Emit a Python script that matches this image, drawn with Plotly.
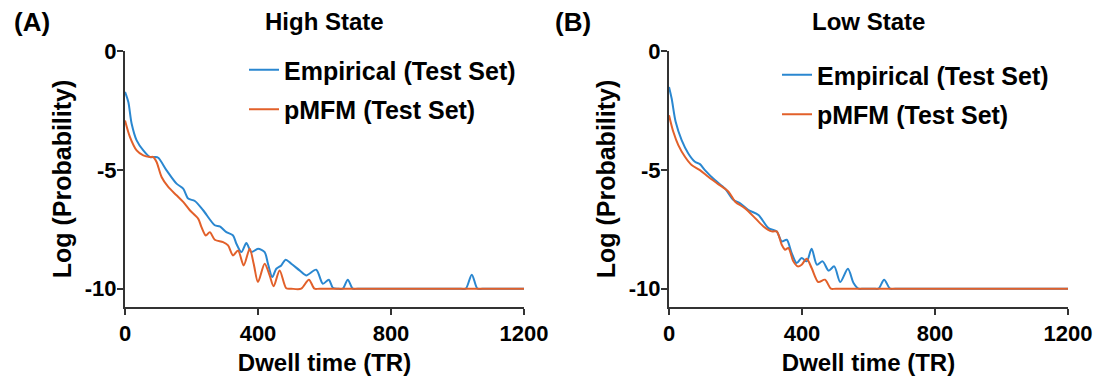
import plotly.graph_objects as go

# ---------------- data ----------------
high_emp_x = [0, 10, 20, 35, 55, 75, 90, 100, 125, 155, 175, 190, 210, 235, 270, 285, 305, 325, 335, 350,
              365, 380, 400, 420, 430, 443, 455, 470, 483, 500, 525, 545, 575, 595, 613, 625, 640, 655, 670,
              685, 700, 1010, 1025, 1043, 1060, 1075, 1200]
high_emp_y = [-1.72, -2.15, -3.06, -3.76, -4.18, -4.46, -4.46, -4.49, -5.02, -5.58, -5.79, -6.21, -6.31,
              -6.70, -7.33, -7.38, -7.62, -7.76, -8.11, -8.46, -8.08, -8.46, -8.32, -8.46, -8.95, -9.51,
              -9.16, -9.02, -8.78, -8.95, -9.23, -9.44, -9.20, -9.79, -9.62, -9.96, -10.0, -10.0, -9.62,
              -10.0, -10.0, -10.0, -10.0, -9.41, -10.0, -10.0, -10.0]

high_pm_x = [0, 15, 35, 55, 75, 85, 95, 110, 130, 155, 175, 195, 220, 230, 243, 255, 270, 295, 310, 325,
             340, 357, 375, 387, 400, 420, 435, 447, 465, 485, 500, 530, 553, 570, 585, 1200]
high_pm_y = [-2.92, -3.62, -4.18, -4.39, -4.46, -4.46, -4.67, -5.30, -5.72, -6.07, -6.35, -6.70, -7.05,
             -7.41, -7.76, -7.62, -7.94, -8.04, -8.18, -8.60, -8.39, -9.02, -8.32, -8.95, -9.72, -8.95,
             -9.44, -9.90, -9.23, -9.98, -10.0, -10.0, -9.62, -10.0, -10.0, -10.0]

low_emp_x = [0, 8, 20, 38, 58, 78, 93, 108, 138, 168, 194, 214, 239, 269, 299, 324, 339, 354, 369, 384,
             399, 414, 429, 445, 462, 480, 497, 515, 538, 555, 570, 585, 615, 630, 647, 665, 680, 1200]
low_emp_y = [-1.51, -2.0, -2.98, -3.75, -4.31, -4.66, -4.76, -5.01, -5.43, -5.78, -6.27, -6.41, -6.69,
             -6.90, -7.45, -7.59, -8.01, -7.94, -8.50, -8.92, -8.71, -8.85, -8.32, -8.99, -8.85, -9.24,
             -9.06, -9.72, -9.16, -9.76, -10.0, -10.0, -10.0, -10.0, -9.62, -10.0, -10.0, -10.0]

low_pm_x = [0, 13, 28, 48, 68, 93, 118, 149, 179, 199, 229, 259, 284, 309, 324, 339, 349, 359, 374, 387,
            399, 414, 429, 449, 469, 487, 502, 1200]
low_pm_y = [-2.70, -3.40, -3.96, -4.45, -4.80, -5.01, -5.29, -5.61, -5.92, -6.34, -6.62, -7.03, -7.38,
            -7.59, -7.59, -8.15, -8.36, -8.29, -8.85, -9.06, -8.99, -8.74, -9.13, -9.72, -9.62, -10.0,
            -10.0, -10.0]

series_names = ["Empirical (Test Set)", "pMFM (Test Set)"]
panel_titles = ["High State", "Low State"]
panel_letters = ["(A)", "(B)"]
x_ticks = [0, 400, 800, 1200]
y_ticks = [0, -5, -10]
y_tick_text = ["0", "-5", "-10"]

# ---------------- styling ----------------
BLUE = "#2A87D0"
ORANGE = "#E2602A"
AXIS = "#333333"
FONT = "Liberation Sans, Arial, sans-serif"

# the page body has an 8px margin, so the figure is drawn 8px in from the window corner
OFF = 8
W, H = 1102 - OFF, 383 - OFF
TOP = 51 - OFF          # screen y of the top of the plot area = 51
BOT = 383 - 307         # screen y of the x axis = 307
PH = H - TOP - BOT


def px_x(p):
    """screen x -> paper x"""
    return (p - OFF) / W


def px_y(p):
    """screen y -> paper y"""
    return (H - BOT - (p - OFF)) / PH


fig = go.Figure()

panels = [
    (high_emp_x, high_emp_y, high_pm_x, high_pm_y, "x", "y", "legend"),
    (low_emp_x, low_emp_y, low_pm_x, low_pm_y, "x2", "y2", "legend2"),
]
for i, (ex, ey, px, py, xa, ya, lg) in enumerate(panels):
    fig.add_trace(go.Scatter(x=ex, y=ey, mode="lines", name=series_names[0],
                             line=dict(color=BLUE, width=2, shape="spline", smoothing=0.8),
                             xaxis=xa, yaxis=ya, legend=lg, legendgroup=f"e{i}"))
    fig.add_trace(go.Scatter(x=px, y=py, mode="lines", name=series_names[1],
                             line=dict(color=ORANGE, width=2, shape="spline", smoothing=0.8),
                             xaxis=xa, yaxis=ya, legend=lg, legendgroup=f"p{i}"))

xcommon = dict(range=[0, 1200], tickvals=x_ticks, showline=True, linecolor=AXIS, linewidth=2,
               ticks="outside", ticklen=6, tickwidth=2, tickcolor=AXIS, showgrid=False, zeroline=False,
               automargin=False,
               tickfont=dict(family=FONT, size=22, color="black", weight="bold"),
               title=dict(text="Dwell time (TR)", font=dict(family=FONT, size=24, color="black", weight="bold"),
                          standoff=9))
ycommon = dict(range=[-10.77, 0], tickvals=y_ticks, ticktext=y_tick_text, showline=True, linecolor=AXIS,
               linewidth=2, ticks="outside", ticklen=6, tickwidth=2, tickcolor=AXIS, showgrid=False,
               zeroline=False, automargin=False, ticklabelstandoff=-4,
               tickfont=dict(family=FONT, size=22, color="black", weight="bold"),
               title=dict(text="Log (Probability)", font=dict(family=FONT, size=25, color="black", weight="bold"),
                          standoff=6))

legcommon = dict(font=dict(family=FONT, size=25, color="black", weight="bold"),
                 bgcolor="rgba(0,0,0,0)", tracegroupgap=4, itemwidth=30,
                 xanchor="left", yanchor="top")

fig.update_layout(
    width=W, height=H,
    margin=dict(l=0, r=0, t=TOP, b=BOT),
    paper_bgcolor="white", plot_bgcolor="white",
    xaxis=dict(domain=[px_x(125), px_x(524)], anchor="y", **xcommon),
    yaxis=dict(domain=[0, 1], anchor="x", **ycommon),
    xaxis2=dict(domain=[px_x(669), px_x(1068)], anchor="y2", **xcommon),
    yaxis2=dict(domain=[0, 1], anchor="x2", **ycommon),
    legend=dict(x=px_x(244), y=px_y(47), **legcommon),
    legend2=dict(x=px_x(777), y=px_y(52), **legcommon),
)

for t, lx in zip(panel_letters, [12, 553]):
    fig.add_annotation(text=t, x=px_x(lx), y=px_y(22), xref="paper", yref="paper",
                       xanchor="left", yanchor="middle", showarrow=False,
                       font=dict(family=FONT, size=26, color="black", weight="bold"))
for t, lx in zip(panel_titles, [263, 810]):
    fig.add_annotation(text=t, x=px_x(lx), y=px_y(21), xref="paper", yref="paper",
                       xanchor="left", yanchor="middle", showarrow=False,
                       font=dict(family=FONT, size=24, color="black", weight="bold"))

fig.write_html("out.html")
